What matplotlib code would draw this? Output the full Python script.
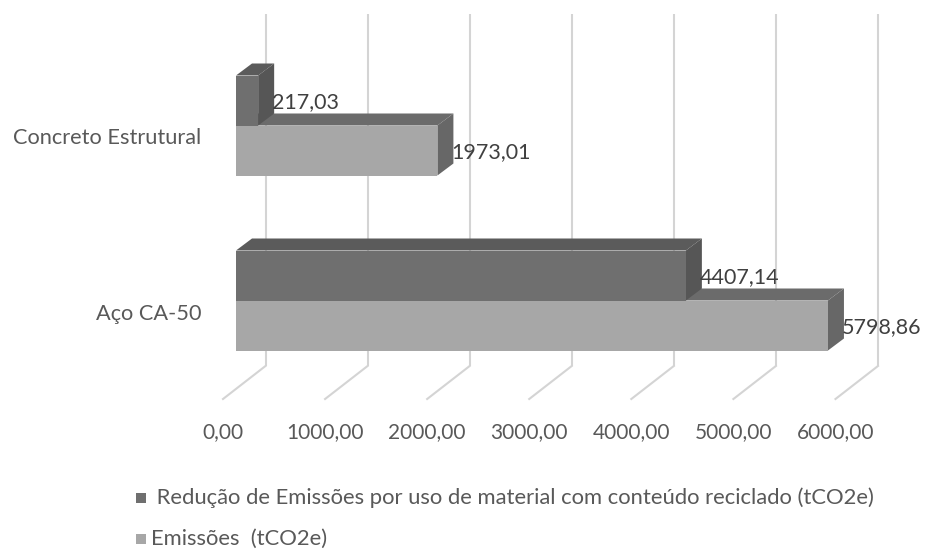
import matplotlib
matplotlib.use("Agg")
import matplotlib.pyplot as plt
from matplotlib.patches import Polygon

plt.rcParams['font.family'] = ['Lato', 'DejaVu Sans']

# dados
categorias = ['Concreto Estrutural', 'Aço CA-50']
reducao = [217.03, 4407.14]
emissoes = [1973.01, 5798.86]
ticks = [0, 1000, 2000, 3000, 4000, 5000, 6000]
tick_labels = ['0,00', '1000,00', '2000,00', '3000,00', '4000,00', '5000,00', '6000,00']
serie_reducao = ' Redução de Emissões por uso de material com conteúdo reciclado (tCO2e)'
serie_emissoes = 'Emissões  (tCO2e)'

W, H = 925, 552
PX = 0.10208          # pixels por tCO2e
X0 = 236              # origem da face frontal das barras

fig = plt.figure(figsize=(W / 100, H / 100), dpi=100)
ax = fig.add_axes([0, 0, 1, 1])
ax.set_xlim(-X0 / PX, (W - X0) / PX)
ax.set_ylim(H, 0)
ax.axis('off')

txt = '#595959'
grid = '#d4d4d4'

# profundidade (em unidades do eixo x / pixels em y)
bar_dx, bar_dy = 16 / PX, -12
wall_dx = 29.5 / PX
floor_dx = -13 / PX

# parede do fundo e piso
for t in ticks:
    xb = t + wall_dx
    ax.plot([xb, xb], [14, 366], color=grid, lw=1.5, zorder=1, solid_capstyle='butt')
    ax.plot([xb, t + floor_dx], [366, 399], color=grid, lw=1.5, zorder=1)

for t, lab in zip(ticks, tick_labels):
    ax.text(t + floor_dx, 432, lab, ha='center', va='center', fontsize=15, color=txt)


def barra(v, y0, y1, front, top, side, z):
    face = Polygon([(0, y0), (v, y0), (v, y1), (0, y1)], closed=True,
                   facecolor=front, edgecolor='none', zorder=z)
    topo = Polygon([(0, y0), (bar_dx, y0 + bar_dy), (v + bar_dx, y0 + bar_dy), (v, y0)],
                   closed=True, facecolor=top, edgecolor='none', zorder=z)
    lado = Polygon([(v, y0), (v + bar_dx, y0 + bar_dy), (v + bar_dx, y1 + bar_dy), (v, y1)],
                   closed=True, facecolor=side, edgecolor='none', zorder=z)
    for p in (topo, lado, face):
        ax.add_patch(p)


centros = [125.5, 300.5]
alt = 50
for i, cat in enumerate(categorias):
    yc = centros[i]
    barra(emissoes[i], yc, yc + alt, '#a7a7a7', '#6b6b6b', '#676767', 2 + 2 * i)
    barra(reducao[i], yc - alt, yc, '#6f6f6f', '#5b5b5b', '#565656', 3 + 2 * i)
    ax.text(reducao[i] + bar_dx - 2 / PX, yc - alt / 2 + 1.5, f'{reducao[i]:.2f}'.replace('.', ','),
            ha='left', va='center', fontsize=15.5, color='#404040', zorder=10)
    ax.text(emissoes[i] + bar_dx - 2 / PX, yc + alt / 2 + 1.5, f'{emissoes[i]:.2f}'.replace('.', ','),
            ha='left', va='center', fontsize=15.5, color='#404040', zorder=10)
    ax.text((201 - X0) / PX, yc + 13, cat, ha='right', va='center', fontsize=15.7, color=txt)

# legenda
for y, cor, lab in [(498, '#6f6f6f', serie_reducao), (539, '#a7a7a7', serie_emissoes)]:
    ax.add_patch(Polygon([(-100 / PX, y - 5), (-90 / PX, y - 5), (-90 / PX, y + 5), (-100 / PX, y + 5)],
                         closed=True, facecolor=cor, edgecolor='none'))
    ax.text(-85 / PX, y, lab, ha='left', va='center', fontsize=15.8, color=txt)

fig.savefig('out.png', dpi=100)
